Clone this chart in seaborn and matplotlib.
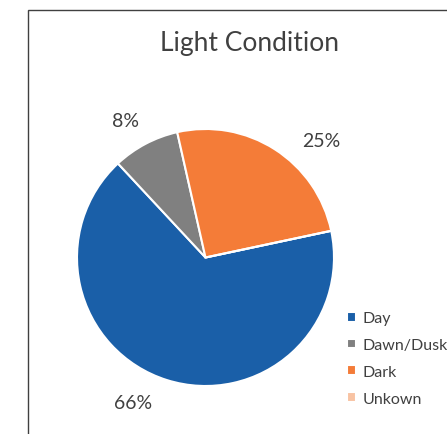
import matplotlib
matplotlib.use('Agg')
import matplotlib.pyplot as plt
import seaborn as sns
from matplotlib.patches import Rectangle

# data
categories = ['Day', 'Dawn/Dusk', 'Dark', 'Unkown']
shares = [66.4, 8.4, 25.2, 0.0]
colors = ['#1a5fa8', '#808080', '#f47c38', '#f8c3a3']
# where the percentage labels sit (pie radius units), Excel "best fit"
label_pos = [(-0.56, -1.13), (-0.62, 1.07), (0.90, 0.91), (0.0, 0.0)]

sns.set_theme(style='white')
plt.rcParams['font.family'] = ['Lato', 'DejaVu Sans']
text_color = '#404040'

W, H = 447, 435
fig = plt.figure(figsize=(W / 100, H / 100), dpi=100)

# chart border (only left and top visible in the crop)
fig.patches.append(Rectangle((28 / W, -0.1), 1.2, 1 - 11 / H + 0.1,
                             transform=fig.transFigure, fill=False,
                             edgecolor='#404040', linewidth=1.0))

cx, cy, r = 205.5, 258.5, 128.5
ax = fig.add_axes([(cx - r) / W, (H - cy - r) / H, 2 * r / W, 2 * r / H])


def pct(v):
    return '' if v < 0.5 else f'{v:.0f}%'


wedges, _, autotexts = ax.pie(
    shares, colors=colors, startangle=12, counterclock=False,
    autopct=pct, pctdistance=1.26,
    wedgeprops=dict(edgecolor='white', linewidth=1.5),
    textprops=dict(color=text_color, fontsize=14),
)
for t, p in zip(autotexts, label_pos):
    t.set_position(p)
ax.set_xlim(-1, 1)
ax.set_ylim(-1, 1)
ax.set_aspect('equal')
ax.axis('off')

fig.text(250 / W, 1 - 43 / H, 'Light Condition', ha='center', va='center',
         fontsize=19, color=text_color)

fig.legend(wedges, categories, loc='upper left',
           bbox_to_anchor=(333 / W, 1 - 298 / H), frameon=False,
           fontsize=11.5, labelcolor=text_color, handlelength=0.55,
           handleheight=0.55, handletextpad=0.4, labelspacing=0.8)

fig.savefig('out.png', dpi=100)
